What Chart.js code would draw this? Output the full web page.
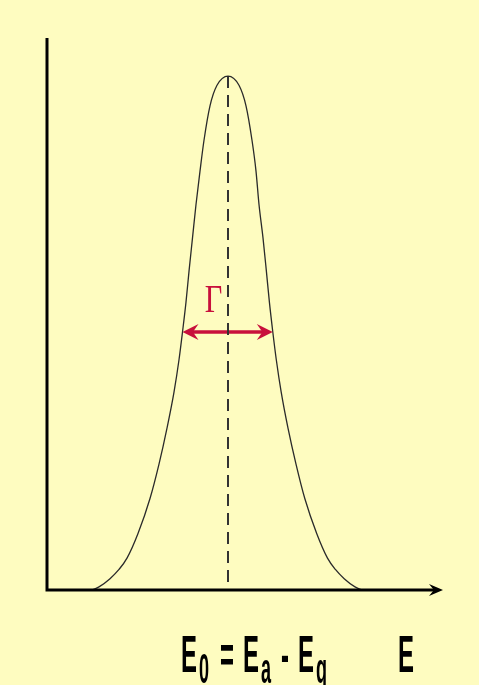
<!DOCTYPE html>
<html lang="en">
<head>
  <meta charset="UTF-8">
  <title>Line shape</title>
  <script src="https://cdn.jsdelivr.net/npm/chart.js"></script>
  <style>
    body {
      margin: 0;
      padding: 0;
      background-color: #fefcc0;
    }
    canvas {
      display: block;
    }
  </style>
</head>
<body>
  <canvas id="lineChart" width="479" height="685"></canvas>

  <script>
    // line profile, energy in arbitrary units, intensity normalised to the peak
    const energy = [45, 52, 63, 72, 80, 91, 103, 112, 120, 127, 132, 135.5, 139, 142, 145.5, 149, 153, 157, 163, 170, 181,
                    192, 199, 205, 209, 212, 216, 219.4, 222.4, 225.8, 229.3, 234.2, 241, 249, 257.8, 269.7, 280.5, 288.4, 297.2, 308, 315];
    const intensity = [0, 0.006, 0.022, 0.040, 0.062, 0.110, 0.178, 0.245, 0.315, 0.385, 0.448, 0.502, 0.56, 0.62, 0.685, 0.75, 0.815, 0.875, 0.942, 0.982, 1.0,
                       0.982, 0.942, 0.875, 0.815, 0.75, 0.685, 0.62, 0.56, 0.502, 0.448, 0.385, 0.315, 0.245, 0.178, 0.110, 0.062, 0.040, 0.022, 0.006, 0];

    const peakEnergy = 181;
    const halfMax = 0.502;
    const halfLeft = 135.5;
    const halfRight = 225.8;
    const widthLabel = "Γ";

    const xMax = 396;
    const yMax = 1.074;

    const red = "#c8103c";

    const drawHead = (ctx, x, y, dir, len, half) => {
      // barbed arrow head pointing along dir (+1 right, -1 left)
      ctx.beginPath();
      ctx.moveTo(x, y);
      ctx.lineTo(x - dir * len, y - half);
      ctx.lineTo(x - dir * len * 0.65, y);
      ctx.lineTo(x - dir * len, y + half);
      ctx.closePath();
      ctx.fill();
    };

    const drawNarrow = (ctx, text, x, baseline, size, squeeze) => {
      ctx.save();
      ctx.translate(x, baseline);
      ctx.scale(squeeze, 1);
      ctx.font = "bold " + size + "px 'Liberation Sans', Arial, sans-serif";
      ctx.textBaseline = "alphabetic";
      ctx.textAlign = "left";
      ctx.fillText(text, 0, 0);
      ctx.restore();
    };

    const decorations = {
      id: "decorations",
      beforeDraw(chart) {
        const ctx = chart.ctx;
        ctx.save();
        ctx.fillStyle = "#fefcc0";
        ctx.fillRect(0, 0, chart.width, chart.height);
        ctx.restore();
      },
      afterDatasetsDraw(chart) {
        const ctx = chart.ctx;
        const x = chart.scales.x;
        const y = chart.scales.y;
        const x0 = x.getPixelForValue(0);
        const x1 = x.getPixelForValue(xMax);
        const y0 = y.getPixelForValue(0);
        const y1 = y.getPixelForValue(yMax);

        ctx.save();
        // axes
        ctx.strokeStyle = "#000";
        ctx.fillStyle = "#000";
        ctx.lineWidth = 3;
        ctx.beginPath();
        ctx.moveTo(x0, y1);
        ctx.lineTo(x0, y0);
        ctx.lineTo(x1 - 8, y0);
        ctx.stroke();
        drawHead(ctx, x1, y0, 1, 14, 6);

        // width arrow heads
        ctx.fillStyle = red;
        const ya = y.getPixelForValue(halfMax);
        drawHead(ctx, x.getPixelForValue(halfLeft), ya, -1, 16, 8);
        drawHead(ctx, x.getPixelForValue(halfRight), ya, 1, 16, 8);

        // Γ label
        ctx.save();
        ctx.translate(x.getPixelForValue((halfLeft + halfRight) / 2) - 23, ya - 20);
        ctx.scale(0.74, 1);
        ctx.font = "41px 'Liberation Serif', 'DejaVu Serif', serif";
        ctx.textBaseline = "alphabetic";
        ctx.fillText(widthLabel, 0, 0);
        ctx.restore();

        // axis caption
        ctx.fillStyle = "#000";
        drawNarrow(ctx, "E", 181, 672, 52, 0.46);
        drawNarrow(ctx, "0", 199, 683, 42, 0.43);
        drawNarrow(ctx, "=", 220, 672, 52, 0.46);
        drawNarrow(ctx, "E", 243, 672, 52, 0.46);
        drawNarrow(ctx, "a", 261, 683, 42, 0.43);
        drawNarrow(ctx, "-", 281, 672, 52, 0.46);
        drawNarrow(ctx, "E", 298, 672, 52, 0.46);
        drawNarrow(ctx, "q", 316, 683, 42, 0.43);
        drawNarrow(ctx, "E", 398, 672, 52, 0.46);
        ctx.restore();
      }
    };

    const ctx = document.getElementById("lineChart").getContext("2d");

    new Chart(ctx, {
      type: "scatter",
      data: {
        datasets: [
          {
            label: "profile",
            data: energy.map((e, i) => ({ x: e, y: intensity[i] })),
            showLine: true,
            borderColor: "#2a2a2a",
            borderWidth: 1.3,
            pointRadius: 0,
            cubicInterpolationMode: "monotone",
            clip: false
          },
          {
            label: "centre",
            data: [{ x: peakEnergy, y: 1.0 }, { x: peakEnergy, y: 0 }],
            showLine: true,
            borderColor: "#333",
            borderWidth: 2,
            borderDash: [12, 7],
            pointRadius: 0,
            clip: false
          },
          {
            label: "width",
            data: [{ x: halfLeft + 6, y: halfMax }, { x: halfRight - 6, y: halfMax }],
            showLine: true,
            borderColor: red,
            borderWidth: 3.5,
            pointRadius: 0,
            clip: false
          }
        ]
      },
      options: {
        responsive: false,
        animation: false,
        devicePixelRatio: 1,
        layout: {
          padding: { left: 47, right: 36, top: 38, bottom: 95 }
        },
        plugins: {
          legend: { display: false },
          tooltip: { enabled: false }
        },
        scales: {
          x: { type: "linear", min: 0, max: xMax, display: false },
          y: { type: "linear", min: 0, max: yMax, display: false }
        }
      },
      plugins: [decorations]
    });
  </script>
</body>
</html>
